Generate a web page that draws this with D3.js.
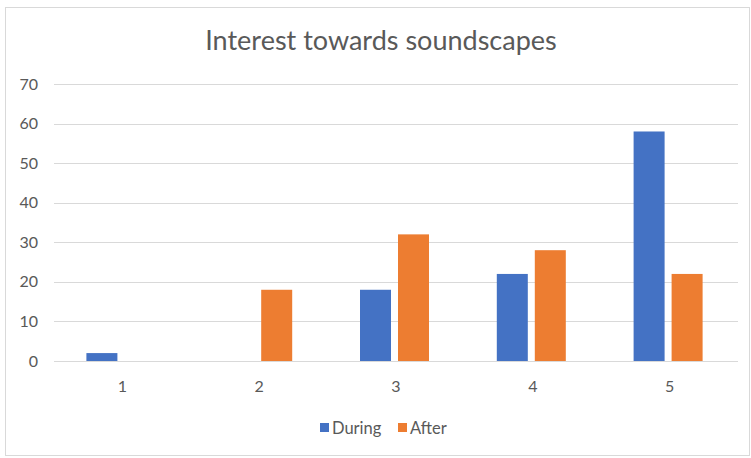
<!DOCTYPE html>
<html>
<head>
<meta charset="utf-8">
<script src="https://cdn.jsdelivr.net/npm/d3@7/dist/d3.min.js"></script>
<style>
  html, body { margin: 0; padding: 0; background: #fff; }
  text { font-family: Lato, "Open Sans", sans-serif; }
</style>
</head>
<body>
<svg id="chart" width="751" height="458"></svg>
<script>
const categories = ["1", "2", "3", "4", "5"];
const seriesNames = ["During", "After"];
const during = [2, 0, 18, 22, 58];
const after = [0, 18, 32, 28, 22];
const yTicks = [0, 10, 20, 30, 40, 50, 60, 70];
const colors = ["#4472C4", "#ED7D31"];

const svg = d3.select("#chart");
const W = 751, H = 458;

// chart frame
svg.append("rect")
  .attr("x", 5.5).attr("y", 7.5)
  .attr("width", W - 7).attr("height", H - 10)
  .attr("fill", "#fff").attr("stroke", "#d9d9d9").attr("stroke-width", 1);

const plot = { left: 54, right: 738, top: 84, bottom: 361 };

const x = d3.scaleBand().domain(categories).range([plot.left, plot.right]);
const y = d3.scaleLinear().domain([0, 70]).range([plot.bottom, plot.top]);

// title
svg.append("text")
  .attr("x", 381).attr("y", 50)
  .attr("text-anchor", "middle")
  .attr("font-size", 27)
  .attr("fill", "#595959")
  .text("Interest towards soundscapes");

// gridlines
svg.append("g").selectAll("line").data(yTicks).join("line")
  .attr("x1", plot.left).attr("x2", plot.right)
  .attr("y1", d => Math.round(y(d)) + 0.5).attr("y2", d => Math.round(y(d)) + 0.5)
  .attr("stroke", "#d9d9d9").attr("stroke-width", 1);

// y axis labels
const yAxis = d3.axisLeft(y).tickValues(yTicks).tickSize(0).tickPadding(0);
const gy = svg.append("g").attr("transform", `translate(${plot.left - 16},0)`).call(yAxis);
gy.select(".domain").remove();
gy.selectAll("text").attr("font-size", 16).attr("fill", "#595959")
  .style("font-family", "Lato, 'Open Sans', sans-serif");

// x axis labels
const xAxis = d3.axisBottom(x).tickSize(0).tickPadding(0);
const gx = svg.append("g").attr("transform", `translate(0,${plot.bottom + 20})`).call(xAxis);
gx.select(".domain").remove();
gx.selectAll("text").attr("font-size", 16).attr("fill", "#595959")
  .style("font-family", "Lato, 'Open Sans', sans-serif");

// bars
const barW = 31, gap = 7;
const series = [during, after];
series.forEach((vals, si) => {
  svg.append("g").selectAll("rect").data(vals).join("rect")
    .attr("x", (d, i) => {
      const c = x(categories[i]) + x.bandwidth() / 2 - 1.5;
      return si === 0 ? c - gap / 2 - barW : c + gap / 2;
    })
    .attr("y", d => y(d))
    .attr("width", barW)
    .attr("height", d => y(0) - y(d))
    .attr("fill", colors[si]);
});

// legend
const legend = svg.append("g");
const legendItems = [
  { name: seriesNames[0], color: colors[0], x: 320 },
  { name: seriesNames[1], color: colors[1], x: 398 }
];
legendItems.forEach(it => {
  legend.append("rect").attr("x", it.x).attr("y", 423).attr("width", 9).attr("height", 9).attr("fill", it.color);
  legend.append("text").attr("x", it.x + 12).attr("y", 434)
    .attr("font-size", 16.5).attr("fill", "#595959").text(it.name);
});
</script>
</body>
</html>
